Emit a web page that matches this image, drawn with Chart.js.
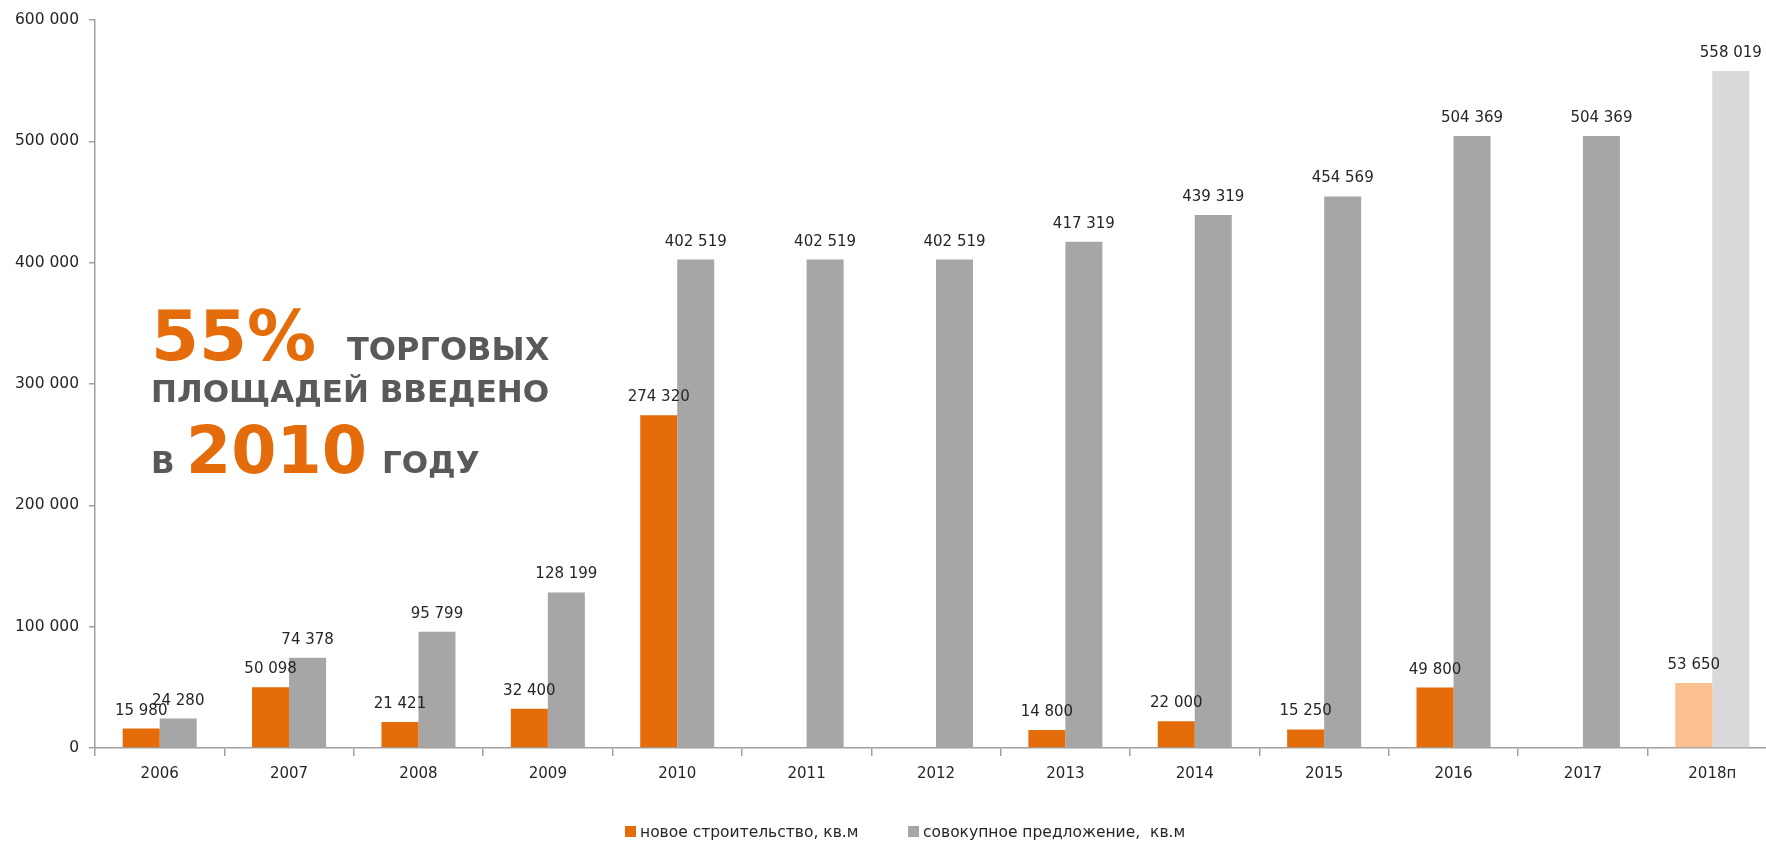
<!DOCTYPE html>
<html>
<head>
<meta charset="utf-8">
<script src="https://cdn.jsdelivr.net/npm/chart.js@4.4.1/dist/chart.umd.min.js"></script>
<style>
  html, body { margin: 0; padding: 0; background: #fff; overflow: hidden; }
  #wrap { width: 1766px; height: 842px; overflow: hidden; position: relative; }
</style>
</head>
<body>
<div id="wrap"><canvas id="chart" width="1800" height="842"></canvas></div>
<script>
const years = ['2006','2007','2008','2009','2010','2011','2012','2013','2014','2015','2016','2017','2018п'];
const newBuild = [15980, 50098, 21421, 32400, 274320, null, null, 14800, 22000, 15250, 49800, null, 53650];
const totalSupply = [24280, 74378, 95799, 128199, 402519, 402519, 402519, 417319, 439319, 454569, 504369, 504369, 558019];
const yTicks = [0, 100000, 200000, 300000, 400000, 500000, 600000];
const seriesNames = ['новое строительство, кв.м', 'совокупное предложение,  кв.м'];

const ORANGE = '#e46c0a', ORANGE_FC = '#fac090';
const GRAY = '#a6a6a6', GRAY_FC = '#d9d9d9';
const TEXT = '#262626';
const AXIS = '#a0a0a0';
const FONT = '"DejaVu Sans", sans-serif';

const fmt = v => String(v).replace(/\B(?=(\d{3})+(?!\d))/g, ' ');
const lastIdx = years.length - 1;

// value labels above each bar
const valueLabels = {
  id: 'valueLabels',
  afterDatasetsDraw(chart) {
    const ctx = chart.ctx;
    ctx.save();
    ctx.font = '15px ' + FONT;
    ctx.fillStyle = TEXT;
    ctx.textAlign = 'center';
    ctx.textBaseline = 'alphabetic';
    chart.data.datasets.forEach((ds, i) => {
      chart.getDatasetMeta(i).data.forEach((el, j) => {
        const v = ds.data[j];
        if (v == null) return;
        ctx.fillText(fmt(v), el.x, el.y - 14);
      });
    });
    ctx.restore();
  }
};

// legend at the bottom, drawn by hand
const bottomLegend = {
  id: 'bottomLegend',
  afterDraw(chart) {
    const ctx = chart.ctx;
    ctx.save();
    ctx.font = '15.5px ' + FONT;
    ctx.textBaseline = 'alphabetic';
    ctx.textAlign = 'left';
    const items = [[625, ORANGE], [908, GRAY]];
    items.forEach(([x, c], i) => {
      ctx.fillStyle = c;
      ctx.fillRect(x, 826, 11, 11);
      ctx.fillStyle = TEXT;
      ctx.fillText(chart.data.datasets[i].label, x + 15, 837);
    });
    ctx.restore();
  }
};

// the big callout on the left
const callout = {
  id: 'callout',
  afterDraw(chart) {
    const ctx = chart.ctx;
    ctx.save();
    ctx.textBaseline = 'alphabetic';
    ctx.textAlign = 'left';
    const dark = '#595959';

    ctx.font = 'bold 69px ' + FONT; ctx.fillStyle = ORANGE;
    ctx.fillText('55%', 151, 360);
    ctx.font = 'bold 32px ' + FONT; ctx.fillStyle = dark;
    ctx.fillText('ТОРГОВЫХ', 347, 360);

    ctx.font = 'bold 31px ' + FONT;
    ctx.fillText('ПЛОЩАДЕЙ ВВЕДЕНО', 151, 402);

    ctx.fillText('В', 151, 473);
    ctx.font = 'bold 65px ' + FONT; ctx.fillStyle = ORANGE;
    ctx.fillText('2010', 186, 473);
    ctx.font = 'bold 31px ' + FONT; ctx.fillStyle = dark;
    ctx.fillText('ГОДУ', 382, 473);
    ctx.restore();
  }
};

new Chart(document.getElementById('chart'), {
  type: 'bar',
  data: {
    labels: years,
    datasets: [
      {
        label: seriesNames[0],
        data: newBuild,
        backgroundColor: years.map((_, i) => i === lastIdx ? ORANGE_FC : ORANGE),
        borderWidth: 0,
        barPercentage: 1.0,
        categoryPercentage: 0.572,
      },
      {
        label: seriesNames[1],
        data: totalSupply,
        backgroundColor: years.map((_, i) => i === lastIdx ? GRAY_FC : GRAY),
        borderWidth: 0,
        barPercentage: 1.0,
        categoryPercentage: 0.572,
      }
    ]
  },
  options: {
    responsive: false,
    animation: false,
    layout: { padding: { top: 20, right: 23, left: 0, bottom: 54 } },
    plugins: {
      tooltip: { enabled: false },
      legend: { display: false }
    },
    scales: {
      x: {
        grid: { display: true, drawOnChartArea: false, offset: true, tickLength: 8, color: AXIS, lineWidth: 1.5 },
        border: { color: AXIS, width: 1.5 },
        ticks: { color: TEXT, padding: 9, font: { family: FONT, size: 15 } },
        afterFit: s => { s.height = 40; }
      },
      y: {
        min: 0,
        max: 600000,
        afterBuildTicks: s => { s.ticks = yTicks.map(v => ({ value: v })); },
        grid: { display: true, drawOnChartArea: false, tickLength: 6, color: AXIS, lineWidth: 1.5 },
        border: { color: AXIS, width: 1.5 },
        ticks: {
          color: TEXT,
          padding: 10,
          font: { family: FONT, size: 15.5 },
          callback: v => fmt(v)
        },
        afterFit: s => { s.width = 95; }
      }
    }
  },
  plugins: [valueLabels, callout, bottomLegend]
});
</script>
</body>
</html>
